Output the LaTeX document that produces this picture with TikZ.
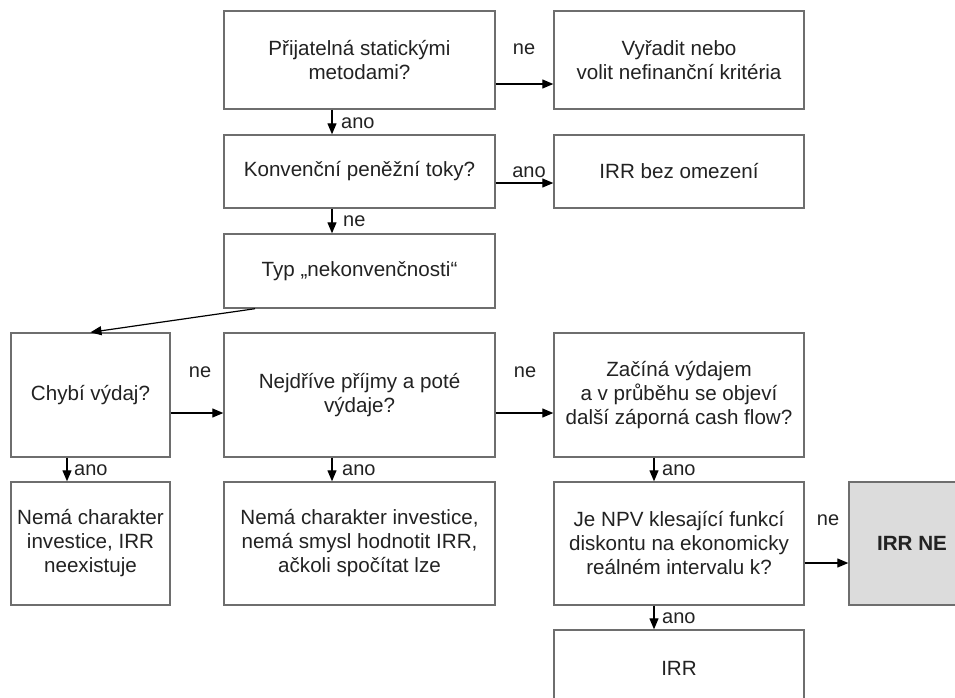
\documentclass[tikz,border=0pt]{standalone}
\usepackage{fontspec}
\setmainfont{Liberation Sans}
\usetikzlibrary{arrows.meta}
\definecolor{boxline}{HTML}{6E6E6E}
\definecolor{txt}{HTML}{222222}
\definecolor{greyfill}{HTML}{DCDCDC}
\begin{document}
\begin{tikzpicture}[x=1pt,y=-1pt,
  every node/.style={text=txt,font=\fontsize{20}{24}\selectfont},
  box/.style={draw=boxline,line width=1.4pt,fill=white,align=center,inner sep=0pt,font=\fontsize{20.6}{24}\selectfont},
  colL/.style={box,minimum width=159pt},
  colM/.style={box,minimum width=271pt},
  colR/.style={box,minimum width=250pt},
  arr/.style={line width=1.2pt,draw=black,-{Triangle[length=11pt,width=9pt]}},
  lab/.style={inner sep=0pt}
]
\useasboundingbox (0,0) rectangle (955,697);
% row 1
\node[colM,minimum height=98pt] (acc) at (359.5,60) {Přijatelná statickými\\metodami?};
\node[colR,minimum height=98pt] (vyr) at (679,60) {Vyřadit nebo\\volit nefinanční kritéria};
% row 2
\node[colM,minimum height=73pt] (konv) at (359.5,171.5) {Konvenční peněžní toky?};
\node[colR,minimum height=73pt] (bez) at (679,171.5) {IRR bez omezení};
% row 3
\node[colM,minimum height=74pt] (typ) at (359.5,271) {Typ „nekonvenčnosti“};
% row 4
\node[colL,minimum height=124pt] (chyb) at (90.5,395) {Chybí výdaj?};
\node[colM,minimum height=124pt] (nejd) at (359.5,395) {Nejdříve příjmy a poté\\výdaje?};
\node[colR,minimum height=124pt] (zac) at (679,395) {Začíná výdajem\\a v průběhu se objeví\\další záporná cash flow?};
% row 5
\node[colL,minimum height=123pt] (nem1) at (90.5,543.5) {Nemá charakter\\investice, IRR\\neexistuje};
\node[colM,minimum height=123pt] (nem2) at (359.5,543.5) {Nemá charakter investice,\\nemá smysl hodnotit IRR,\\ačkoli spočítat lze};
\node[colR,minimum height=123pt] (npv) at (679,543.5) {Je NPV klesající funkcí\\diskontu na ekonomicky\\reálném intervalu k?};
\node[box,fill=greyfill,minimum width=126pt,minimum height=123pt] (irrne) at (912,543.5) {\bfseries IRR NE};
% row 6
\node[colR,minimum height=76pt] (irr) at (679,668) {IRR};

% connectors
\draw[arr] ([yshift=-24pt]acc.east) -- ([yshift=-24pt]vyr.west);
\draw[arr] ([xshift=-27.5pt]acc.south) -- ([xshift=-27.5pt]konv.north);
\draw[arr] ([yshift=-11.5pt]konv.east) -- ([yshift=-11.5pt]bez.west);
\draw[arr] ([xshift=-27.5pt]konv.south) -- ([xshift=-27.5pt]typ.north);
\draw[arr] ([xshift=-104.5pt]typ.south) -- (chyb.north);
\draw[arr] ([yshift=-18pt]chyb.east) -- ([yshift=-18pt]nejd.west);
\draw[arr] ([yshift=-18pt]nejd.east) -- ([yshift=-18pt]zac.west);
\draw[arr] ([xshift=-23.5pt]chyb.south) -- ([xshift=-23.5pt]nem1.north);
\draw[arr] ([xshift=-27.5pt]nejd.south) -- ([xshift=-27.5pt]nem2.north);
\draw[arr] ([xshift=-25pt]zac.south) -- ([xshift=-25pt]npv.north);
\draw[arr] ([yshift=-19.5pt]npv.east) -- ([yshift=-19.5pt]irrne.west);
\draw[arr] ([xshift=-25pt]npv.south) -- ([xshift=-25pt]irr.north);

% labels
\node[lab] (l1) at (524,49) {ne};
\node[lab,anchor=west] (l2) at (341,123) {ano};
\node[lab] (l3) at (529,172) {ano};
\node[lab,anchor=west] (l4) at (343,221) {ne};
\node[lab] (l5) at (200,372) {ne};
\node[lab] (l6) at (525,372) {ne};
\node[lab,anchor=west] (l7) at (74,470) {ano};
\node[lab,anchor=west] (l8) at (342,470) {ano};
\node[lab,anchor=west] (l9) at (662,470) {ano};
\node[lab] (l10) at (828,520) {ne};
\node[lab,anchor=west] (l11) at (662,618) {ano};
\end{tikzpicture}
\end{document}
